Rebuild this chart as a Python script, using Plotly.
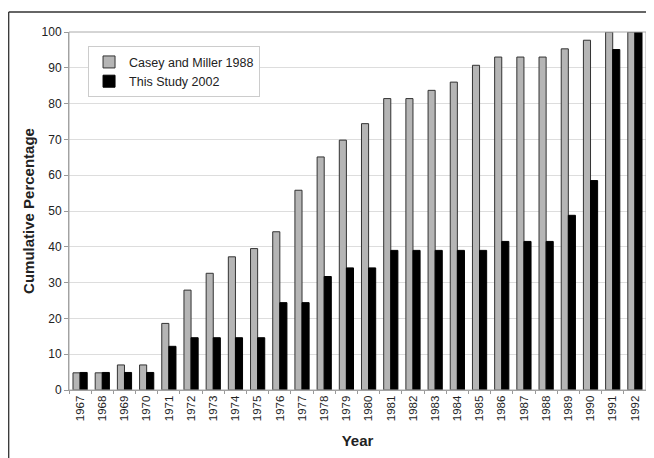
import plotly.graph_objects as go

years = [str(y) for y in range(1967, 1993)]
casey_miller_1988 = [4.8, 4.8, 7.0, 7.0, 18.6, 27.9, 32.6, 37.2, 39.5, 44.2, 55.8, 65.1, 69.8,
                     74.4, 81.4, 81.4, 83.7, 86.0, 90.7, 93.0, 93.0, 93.0, 95.3, 97.7, 100, 100]
this_study_2002 = [4.9, 4.9, 4.9, 4.9, 12.2, 14.6, 14.6, 14.6, 14.6, 24.4, 24.4, 31.7, 34.1,
                   34.1, 39.0, 39.0, 39.0, 39.0, 39.0, 41.5, 41.5, 41.5, 48.8, 58.5, 95.1, 100]
y_ticks = list(range(0, 101, 10))

FONT = "Liberation Sans, Arial, sans-serif"
OFF = 8  # page body margin
W, H = 654 - OFF, 458 - OFF
L, R, T, B = 69 - OFF, 654 - 646, 32 - OFF, 458 - 390

fig = go.Figure()
fig.add_trace(go.Bar(x=years, y=casey_miller_1988, name="Casey and Miller 1988",
                     marker=dict(color="#b5b5b5", line=dict(color="#333333", width=1))))
fig.add_trace(go.Bar(x=years, y=this_study_2002, name="This Study 2002",
                     marker=dict(color="#000000", line=dict(color="#000000", width=1))))

fig.update_layout(
    width=W, height=H,
    margin=dict(l=L, r=R, t=T, b=B),
    paper_bgcolor="white", plot_bgcolor="white",
    barmode="group", bargap=0.36, bargroupgap=0,
    font=dict(family=FONT, size=12, color="#222"),
    showlegend=True,
    legend=dict(x=0.033, y=0.96, xanchor="left", yanchor="top",
                bgcolor="white", bordercolor="#cccccc", borderwidth=1,
                font=dict(size=12.5, color="#222"), itemwidth=30, tracegroupgap=2),
    xaxis=dict(type="category", tickangle=-90, tickson="boundaries", ticks="outside",
               ticklen=3, tickcolor="#999", showgrid=False,
               showline=True, linecolor="#999", linewidth=1, mirror=False,
               tickfont=dict(size=11.5, color="#222"),
               title=dict(text="<b>Year</b>", font=dict(size=15, color="#222"), standoff=15)),
    yaxis=dict(range=[0, 100], tickvals=y_ticks, ticks="outside", ticklen=4, tickcolor="#999",
               showgrid=True, gridcolor="#dddddd", gridwidth=1,
               showline=True, linecolor="#999", linewidth=1, zeroline=False,
               tickfont=dict(size=12, color="#222"),
               title=dict(text="<b>Cumulative Percentage</b>", font=dict(size=15, color="#222"),
                          standoff=3)),
)

# plot area top/right border
fig.add_shape(type="rect", xref="paper", yref="paper", x0=0, y0=0, x1=1, y1=1,
              line=dict(color="#aaaaaa", width=1), layer="above")
# outer frame (top and left edges)
pw = W - L - R
ph = H - T - B
fx0 = (0.7 - L) / pw
fy1 = 1 + (T - (12 - OFF)) / ph
fig.add_shape(type="line", xref="paper", yref="paper", x0=fx0, x1=(W + 5 - L) / pw,
              y0=fy1, y1=fy1, line=dict(color="#333", width=1.3))
fig.add_shape(type="line", xref="paper", yref="paper", x0=fx0, x1=fx0,
              y0=fy1, y1=-(B + 10) / ph, line=dict(color="#333", width=1.3))

fig.write_html("out.html")
